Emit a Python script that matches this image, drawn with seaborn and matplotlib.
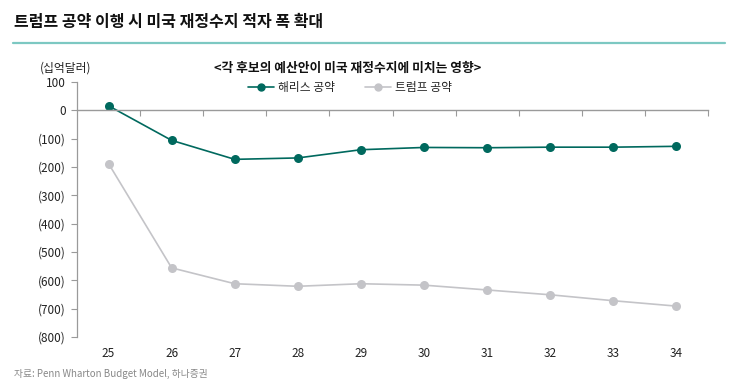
import numpy as np
import pandas as pd
import matplotlib
matplotlib.use("Agg")
import matplotlib.pyplot as plt
import seaborn as sns
from matplotlib.lines import Line2D

years = ["25", "26", "27", "28", "29", "30", "31", "32", "33", "34"]
harris = [16, -106, -173, -168, -139, -131, -132, -130, -130, -127]
trump = [-188, -556, -612, -621, -612, -617, -634, -651, -672, -691]
series_names = ["해리스 공약", "트럼프 공약"]

sns.set_theme(style="white")
plt.rcParams["font.family"] = ["Noto Sans CJK KR", "DejaVu Sans"]

teal = "#00695E"
gray = "#C4C4C8"
axis_gray = "#9A9A9A"

df = pd.DataFrame({
    "pos": list(range(len(years))) * 2,
    "value": harris + trump,
    "series": [series_names[0]] * len(years) + [series_names[1]] * len(years),
})

fig = plt.figure(figsize=(7.48, 3.91), dpi=100)
ax = fig.add_axes([77 / 748, 1 - 337 / 391, (708 - 77) / 748, (337 - 82) / 391])

sns.lineplot(data=df, x="pos", y="value", hue="series",
             palette={series_names[0]: teal, series_names[1]: gray},
             hue_order=[series_names[1], series_names[0]],
             marker="o", markersize=6.5, markeredgewidth=0,
             linewidth=1.2, legend=False, ax=ax)

ax.set_xlim(-0.5, 9.5)
ax.set_ylim(-800, 100)
ax.set_yticks(np.arange(-800, 101, 100))
ax.set_yticklabels([f"({abs(v)})" if v < 0 else f"{v}" for v in range(-800, 101, 100)],
                   fontsize=8.5, color="#222222")
ax.tick_params(axis="y", direction="out", length=4, width=0.8, color=axis_gray, pad=4, left=True)

for s in ["top", "right"]:
    ax.spines[s].set_visible(False)
ax.spines["left"].set_color(axis_gray)
ax.spines["left"].set_linewidth(0.9)
ax.spines["bottom"].set_position(("data", 0))
ax.spines["bottom"].set_color(axis_gray)
ax.spines["bottom"].set_linewidth(1.0)

ax.set_xticks(np.arange(0.5, 10, 1), minor=True)
ax.set_xticks(range(len(years)))
ax.set_xticklabels([])
ax.tick_params(axis="x", which="major", length=0)
ax.tick_params(axis="x", which="minor", direction="out", length=4, width=0.8, color=axis_gray, bottom=True)

sec = ax.secondary_xaxis(location=0)
sec.set_xticks(range(len(years)))
sec.set_xticklabels(years, fontsize=8.5, color="#222222")
sec.tick_params(length=0, pad=7)
sec.spines["bottom"].set_visible(False)

ax.set_xlabel("")
ax.set_ylabel("")
ax.grid(False)

# title and header
fig.text(14 / 748, 1 - 22 / 391, "트럼프 공약 이행 시 미국 재정수지 적자 폭 확대",
         fontsize=11.5, fontweight="bold", color="#111111", va="center")
fig.add_artist(Line2D([13 / 748, 725 / 748], [1 - 43 / 391, 1 - 43 / 391],
                      color="#7CC8C2", linewidth=1.6))
fig.text(348 / 748, 1 - 68 / 391, "<각 후보의 예산안이 미국 재정수지에 미치는 영향>",
         fontsize=9.2, fontweight="bold", color="#111111", ha="center", va="center")
fig.text(66 / 748, 1 - 68 / 391, "(십억달러)", fontsize=8.5, color="#222222",
         ha="center", va="center")
fig.text(14 / 748, 1 - 374 / 391, "자료: Penn Wharton Budget Model, 하나증권",
         fontsize=7, color="#888888", va="center")

handles = [Line2D([], [], color=teal, marker="o", markersize=5, linewidth=1.2),
           Line2D([], [], color=gray, marker="o", markersize=5, linewidth=1.2)]
fig.legend(handles, series_names, loc="center", bbox_to_anchor=(350 / 748, 1 - 88 / 391),
           ncol=2, frameon=False, fontsize=8.5, handlelength=2.2, columnspacing=2.5,
           handletextpad=0.4)

fig.savefig("out.png", dpi=100)
